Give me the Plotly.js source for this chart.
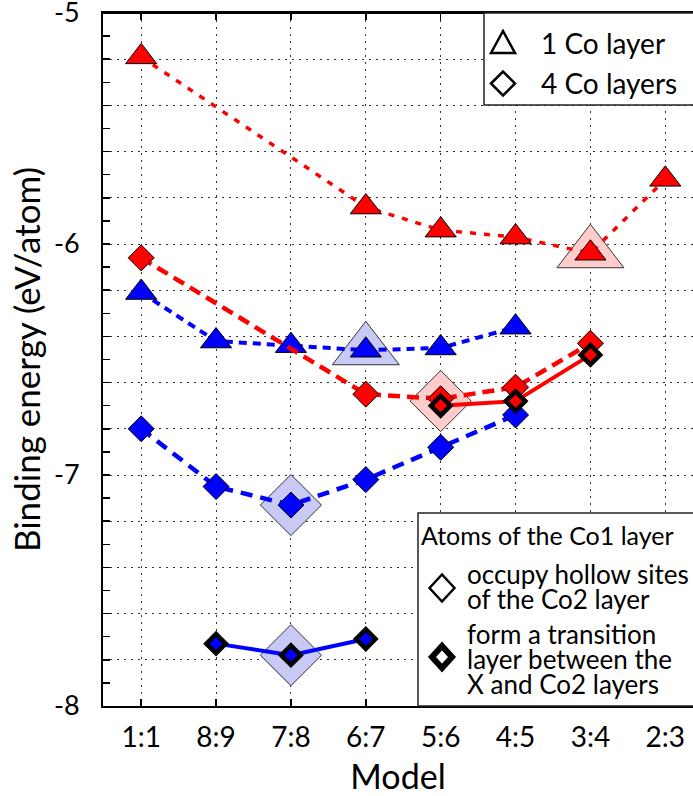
<!DOCTYPE html>
<html>
<head>
<meta charset="utf-8">
<script src="https://cdn.plot.ly/plotly-3.0.1.min.js"></script>
<style>
  html, body { margin: 0; padding: 0; background: #fff; }
  #chart { width: 693px; height: 796px; }
</style>
</head>
<body>
<div id="chart"></div>
<script>
// Models (X:Co ratio) along the horizontal axis
const models = ['1:1', '8:9', '7:8', '6:7', '5:6', '4:5', '3:4', '2:3'];

// 1 Co layer (triangles)
const oneLayerRed  = [-5.19, null, null, -5.84, -5.94, -5.97, -6.04, -5.72];
const oneLayerBlue = [-6.21, -6.42, -6.44, -6.46, -6.45, -6.36, null, null];

// 4 Co layers, Co1 atoms in hollow sites of the Co2 layer (thin-edged diamonds)
const fourLayerRed  = [-6.06, null, null, -6.65, -6.67, -6.62, -6.43, null];
const fourLayerBlue = [-6.80, -7.05, -7.13, -7.02, -6.88, -6.74, null, null];

// 4 Co layers, Co1 atoms forming a transition layer (thick-edged diamonds)
const transRed  = [null, null, null, null, -6.70, -6.68, -6.48, null];
const transBlue = [null, -7.73, -7.78, -7.71, null, null, null, null];

// Lowest-energy model of each family, shown with an enlarged shaded marker
const minTriModels = ['6:7', '3:4'];
const minTriValues = [-6.46, -6.04];
const minTriColors = ['#c9c9f6', '#ffcccc'];
const minDiaModels = ['7:8', '7:8', '5:6'];
const minDiaValues = [-7.13, -7.78, -6.68];
const minDiaColors = ['#c9c9f6', '#c9c9f6', '#ffcccc'];

// Vertical axis ticks: gridlines every 0.2, labels on whole numbers
const yTickVals = [-8, -7.8, -7.6, -7.4, -7.2, -7, -6.8, -6.6, -6.4, -6.2, -6, -5.8, -5.6, -5.4, -5.2, -5];
const yTickText = ['-8', '', '', '', '', '-7', '', '', '', '', '-6', '', '', '', '', '-5'];

const RED = '#ff0000';
const BLUE = '#0000ff';

function series(y, color, symbol, size, lineW, dash, edgeW) {
  return {
    type: 'scatter', mode: 'lines+markers', x: models, y: y,
    connectgaps: true, cliponaxis: false, hoverinfo: 'skip',
    line: { color: color, width: lineW, dash: dash },
    marker: { symbol: symbol, size: size, color: color, line: { color: '#000', width: edgeW } }
  };
}

const traces = [
  { type: 'scatter', mode: 'markers', x: minTriModels, y: minTriValues, hoverinfo: 'skip',
    marker: { symbol: 'triangle-up', size: 58, color: minTriColors, line: { color: '#333', width: 1 } } },
  { type: 'scatter', mode: 'markers', x: minDiaModels, y: minDiaValues, hoverinfo: 'skip',
    marker: { symbol: 'diamond', size: 47, color: minDiaColors, line: { color: '#333', width: 1 } } },
  series(oneLayerBlue, BLUE, 'triangle-up', 27, 4, '8px,6px', 1),
  series(oneLayerRed, RED, 'triangle-up', 27, 3.5, '6px,8px', 1),
  series(fourLayerBlue, BLUE, 'diamond', 20, 4.5, '12px,8px', 1),
  series(fourLayerRed, RED, 'diamond', 20, 4.5, '12px,7px', 1),
  series(transBlue, BLUE, 'diamond', 15, 4, 'solid', 4.5),
  series(transRed, RED, 'diamond', 15, 4, 'solid', 4.5)
];

// Plot area in pixels, used to place the legend boxes and keys
const PL = 103, PR = 693, PT = 13, PB = 706;
const px = v => (v - PL) / (PR - PL);
const py = v => (PB - v) / (PB - PT);

function triPath(cx, cy, hw, top, bottom) {
  return `M ${px(cx - hw)},${py(cy + bottom)} L ${px(cx + hw)},${py(cy + bottom)} L ${px(cx)},${py(cy - top)} Z`;
}
function diaPath(cx, cy, hw, hh) {
  return `M ${px(cx - hw)},${py(cy)} L ${px(cx)},${py(cy - hh)} L ${px(cx + hw)},${py(cy)} L ${px(cx)},${py(cy + hh)} Z`;
}

const shapes = [
  // top frame line of the plot area
  { type: 'line', xref: 'paper', yref: 'paper', x0: 0, x1: 1.05, y0: 1, y1: 1,
    line: { color: '#000', width: 2 }, layer: 'above' },
  { type: 'rect', xref: 'paper', yref: 'paper', x0: px(484), x1: px(720), y0: py(105), y1: py(13),
    fillcolor: '#fff', line: { color: '#222', width: 1.5 }, layer: 'above' },
  { type: 'rect', xref: 'paper', yref: 'paper', x0: px(418), x1: px(720), y0: py(706), y1: py(513),
    fillcolor: '#fff', line: { color: '#222', width: 1.5 }, layer: 'above' },
  { type: 'path', xref: 'paper', yref: 'paper', path: triPath(503, 44, 12, 13, 9),
    fillcolor: '#fff', line: { color: '#000', width: 2.5 }, layer: 'above' },
  { type: 'path', xref: 'paper', yref: 'paper', path: diaPath(503, 83.5, 12, 12),
    fillcolor: '#fff', line: { color: '#000', width: 2.5 }, layer: 'above' },
  { type: 'path', xref: 'paper', yref: 'paper', path: diaPath(442, 588, 12.5, 13.5),
    fillcolor: '#fff', line: { color: '#000', width: 2.5 }, layer: 'above' },
  { type: 'path', xref: 'paper', yref: 'paper', path: diaPath(442, 657, 10, 11),
    fillcolor: '#fff', line: { color: '#000', width: 6 }, layer: 'above' }
];

function label(text, x, y, size) {
  return { text: text, xref: 'paper', yref: 'paper', x: px(x), y: py(y),
    xanchor: 'left', yanchor: 'middle', showarrow: false, borderpad: 0,
    font: { size: size, color: '#000', family: 'Lato, sans-serif' } };
}

const annotations = [
  label('1 Co layer', 540, 43, 28),
  label('4 Co layers', 540, 83, 28),
  label('Atoms of the Co1 layer', 420, 535, 25),
  label('occupy hollow sites', 466, 574, 26),
  label('of the Co2 layer', 466, 599, 26),
  label('form a transition', 466, 634, 26),
  label('layer between the', 466, 659, 26),
  label('X and Co2 layers', 466, 684, 26)
];

const layout = {
  width: 693, height: 796,
  margin: { l: PL, r: 0, t: PT, b: 796 - PB },
  paper_bgcolor: '#fff', plot_bgcolor: '#fff',
  font: { family: 'Lato, sans-serif', color: '#000' },
  showlegend: false,
  hovermode: false,
  xaxis: {
    type: 'category', categoryorder: 'array', categoryarray: models,
    range: [-0.51, 7.37], fixedrange: true,
    showline: true, linewidth: 2, linecolor: '#000', mirror: 'ticks',
    ticks: 'inside', ticklen: 7, tickwidth: 1.5, tickcolor: '#000',
    showgrid: true, gridcolor: '#333', gridwidth: 1, griddash: '2px,5px',
    zeroline: false,
    tickfont: { size: 28 }, ticklabelstandoff: 5,
    title: { text: 'Model', font: { size: 34 }, standoff: 17 }
  },
  yaxis: {
    range: [-8, -5], fixedrange: true,
    tickmode: 'array', tickvals: yTickVals, ticktext: yTickText,
    ticklabeloverflow: 'allow',
    showline: true, linewidth: 2, linecolor: '#000', mirror: false,
    ticks: 'inside', ticklen: 7, tickwidth: 1.5, tickcolor: '#000',
    showgrid: true, gridcolor: '#333', gridwidth: 1, griddash: '2px,5px',
    zeroline: false,
    minor: { tickmode: 'linear', tick0: -8, dtick: 0.1, ticks: 'inside', ticklen: 7,
             tickwidth: 1.5, tickcolor: '#000', showgrid: false },
    tickfont: { size: 27 }, ticklabelstandoff: 16,
    title: { text: 'Binding energy (eV/atom)', font: { size: 35 }, standoff: 3 }
  },
  shapes: shapes,
  annotations: annotations
};

Plotly.newPlot('chart', traces, layout, { displayModeBar: false, staticPlot: true });
</script>
</body>
</html>
